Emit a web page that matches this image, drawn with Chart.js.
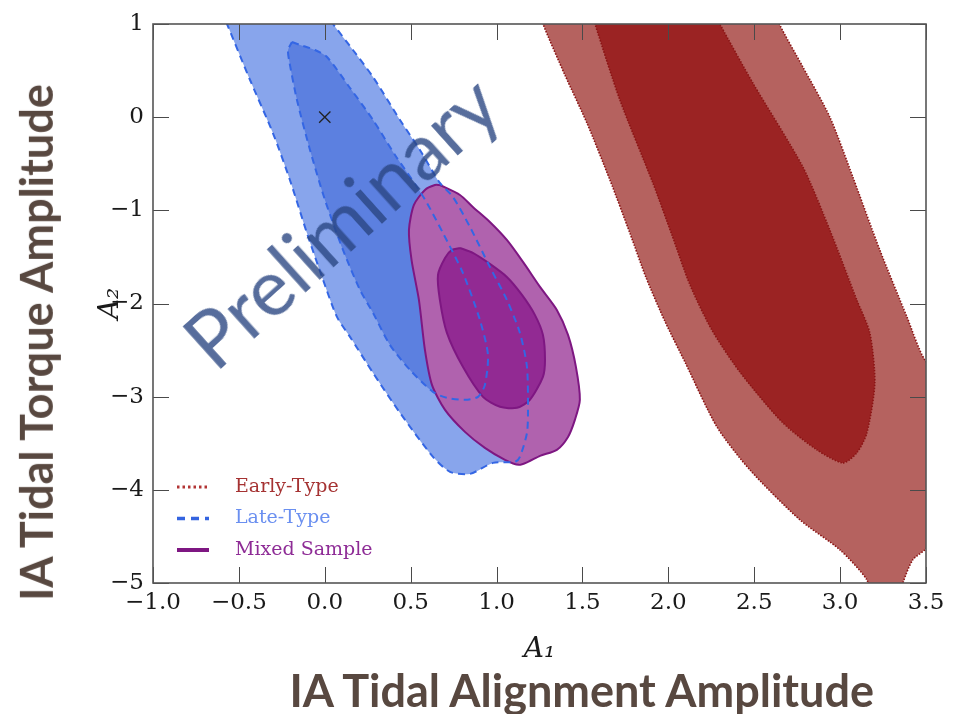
<!DOCTYPE html>
<html>
<head>
<meta charset="utf-8">
<script src="https://cdn.jsdelivr.net/npm/chart.js@4.4.1/dist/chart.umd.min.js"></script>
<style>
    html, body { margin: 0; padding: 0; background: #fff; }
    #wrap { position: relative; width: 959px; height: 714px; overflow: hidden; }
    #wrap canvas { position: absolute; left: 0; top: 0; }
    .slide-label {
        position: absolute;
        font-family: Lato, 'Open Sans', sans-serif;
        font-weight: 700;
        color: #584840;
        white-space: nowrap;
        line-height: 1;
        transform-origin: 50% 50%;
    }
    #stamp {
        position: absolute;
        font-family: Lato, 'Open Sans', sans-serif;
        font-weight: 400;
        font-size: 79px;
        color: rgba(40, 68, 128, 0.78);
        white-space: nowrap;
        line-height: 1;
        pointer-events: none;
    }
</style>
</head>
<body>
<div id="wrap">
    <canvas id="contourChart" width="959" height="714"></canvas>
    <div class="slide-label" id="ylab">IA Tidal Torque Amplitude</div>
    <div class="slide-label" id="xlab">IA Tidal Alignment Amplitude</div>
    <div id="stamp">Preliminary</div>
</div>
<script>
    // ------------------------------------------------------------
    //  Data (A1, A2)
    // ------------------------------------------------------------
    var xRange = [-1, 3.5];
    var yRange = [-5, 1];
    var xStep = 0.5;
    var yStep = 1;

    var seriesNames = ['Early-Type', 'Late-Type', 'Mixed Sample'];

    // Early-type contours (run past the frame, clipped by the axes)
    var earlyOuter = [
        [1.223, 1.258], [1.270, 1.000], [1.398, 0.453], [1.526, -0.062], [1.660, -0.674],
        [1.776, -1.243], [1.870, -1.720], [1.980, -2.190], [2.100, -2.640], [2.283, -3.324],
        [2.475, -3.786], [2.766, -4.322], [2.999, -4.644], [3.156, -4.966], [3.185, -5.180],
        [3.348, -5.180], [3.366, -4.998], [3.423, -4.751], [3.493, -4.644], [3.697, -4.215],
        [3.697, -3.034], [3.493, -2.605], [3.389, -2.144], [3.231, -1.425], [3.074, -0.642],
        [2.940, 0.002], [2.783, 0.539], [2.649, 0.989], [2.591, 1.258]
    ];
    var earlyInner = [
        [1.532, 1.258], [1.573, 1.000], [1.718, 0.185], [1.910, -0.706], [2.021, -1.264],
        [2.126, -1.800], [2.253, -2.283], [2.416, -2.734], [2.667, -3.281], [2.865, -3.571],
        [3.016, -3.711], [3.097, -3.603], [3.156, -3.389], [3.202, -2.852], [3.173, -2.316],
        [3.097, -1.961], [2.940, -1.210], [2.783, -0.534], [2.492, 0.367], [2.300, 1.000],
        [2.230, 1.258]
    ];

    // Late-type contours
    var lateOuter = [
        [-0.627, 1.258], [-0.569, 1.000], [-0.435, 0.399], [-0.302, -0.170], [-0.203, -0.674],
        [-0.104, -1.243], [-0.016, -1.715], [0.071, -2.144], [0.147, -2.358], [0.281, -2.745],
        [0.438, -3.174], [0.630, -3.646], [0.729, -3.807], [0.845, -3.829], [0.979, -3.711],
        [1.107, -3.700], [1.136, -3.646], [1.177, -3.389], [1.183, -3.142], [1.177, -2.680],
        [1.136, -2.316], [1.060, -1.961], [0.961, -1.607], [0.845, -1.178], [0.746, -0.856],
        [0.670, -0.706], [0.554, -0.352], [0.438, -0.030], [0.281, 0.431], [0.164, 0.721],
        [0.048, 1.000], [-0.057, 1.258]
    ];
    var lateInner = [
        [-0.191, 0.807], [-0.144, 0.775], [-0.057, 0.721], [0.013, 0.646], [0.147, 0.313],
        [0.281, -0.030], [0.409, -0.406], [0.537, -0.749], [0.595, -0.921], [0.688, -1.243],
        [0.804, -1.672], [0.903, -2.176], [0.950, -2.552], [0.932, -2.874], [0.892, -3.002],
        [0.816, -3.034], [0.711, -3.013], [0.630, -2.949], [0.496, -2.713], [0.379, -2.444],
        [0.281, -2.101], [0.205, -1.854], [0.106, -1.425], [0.001, -0.888], [-0.086, -0.352],
        [-0.162, 0.185], [-0.208, 0.614], [-0.214, 0.721]
    ];

    // Mixed-sample contours
    var mixedOuter = [
        [0.670, -0.728], [0.787, -0.835], [0.862, -0.964], [0.961, -1.125], [1.060, -1.318],
        [1.154, -1.554], [1.253, -1.822], [1.351, -2.069], [1.416, -2.337], [1.462, -2.680],
        [1.485, -3.034], [1.456, -3.249], [1.416, -3.432], [1.351, -3.571], [1.253, -3.635],
        [1.183, -3.700], [1.130, -3.732], [1.049, -3.678], [0.932, -3.550], [0.816, -3.378],
        [0.700, -3.142], [0.624, -2.874], [0.583, -2.498], [0.548, -1.961], [0.505, -1.532],
        [0.490, -1.210], [0.519, -0.942], [0.583, -0.781], [0.641, -0.728]
    ];
    var mixedInner = [
        [0.787, -1.404], [0.862, -1.457], [0.961, -1.575], [1.060, -1.715], [1.148, -1.908],
        [1.223, -2.122], [1.270, -2.337], [1.282, -2.605], [1.270, -2.788], [1.194, -3.034],
        [1.119, -3.120], [1.020, -3.109], [0.921, -3.002], [0.804, -2.680], [0.711, -2.316],
        [0.670, -1.961], [0.659, -1.693], [0.700, -1.511], [0.740, -1.425]
    ];

    var fiducial = [[0, 0]];

    // ------------------------------------------------------------
    //  Helpers
    // ------------------------------------------------------------
    var TICK_LEN = 16;

    function toPoints(arr, close) {
        var out = arr.map(function (p) { return { x: p[0], y: p[1] }; });
        if (close) out.push({ x: arr[0][0], y: arr[0][1] });
        return out;
    }

    function fillRegion(label, data, color, order, border) {
        border = border || {};
        return {
            label: label,
            data: toPoints(data, true),
            showLine: true,
            fill: 'shape',
            backgroundColor: color,
            borderColor: border.color || 'rgba(0,0,0,0)',
            borderWidth: border.width || 0,
            borderDash: border.dash || [],
            pointRadius: 0,
            tension: 0.25,
            order: order
        };
    }

    function outline(label, data, color, dash, order) {
        return {
            label: label,
            data: toPoints(data, true),
            showLine: true,
            fill: false,
            borderColor: color,
            borderWidth: 2,
            borderDash: dash,
            pointRadius: 0,
            tension: 0.25,
            order: order
        };
    }

    function minus(s) { return String(s).replace('-', '\u2212'); }

    var redDots = { color: '#8a1414', width: 1.6, dash: [1.5, 1.5] };
    var purpleLine = { color: '#7e1782', width: 2 };

    var legendRows = [
        { text: seriesNames[0], textColor: '#a53232', line: '#b23434', dash: [2.5, 3], width: 3 },
        { text: seriesNames[1], textColor: '#6a8ff0', line: '#3464e0', dash: [8, 6], width: 3.5 },
        { text: seriesNames[2], textColor: '#8e2c96', line: '#7e1782', dash: [], width: 4 }
    ];

    // Frame + inward ticks on all four sides (matplotlib style)
    var frameTicks = {
        id: 'frameTicks',
        afterDatasetsDraw: function (chart) {
            var ctx = chart.ctx, a = chart.chartArea;
            var xs = chart.scales.x, ys = chart.scales.y;
            ctx.save();
            ctx.strokeStyle = '#4a4a4a';
            ctx.lineWidth = 1;
            ctx.beginPath();
            xs.ticks.forEach(function (t) {
                var px = Math.round(xs.getPixelForValue(t.value)) + 0.5;
                ctx.moveTo(px, a.bottom); ctx.lineTo(px, a.bottom - TICK_LEN);
                ctx.moveTo(px, a.top); ctx.lineTo(px, a.top + TICK_LEN);
            });
            ys.ticks.forEach(function (t) {
                var py = Math.round(ys.getPixelForValue(t.value)) + 0.5;
                ctx.moveTo(a.left, py); ctx.lineTo(a.left + TICK_LEN, py);
                ctx.moveTo(a.right, py); ctx.lineTo(a.right - TICK_LEN, py);
            });
            ctx.stroke();
            ctx.lineWidth = 1.6;
            ctx.strokeStyle = '#555';
            ctx.strokeRect(a.left, a.top, a.right - a.left, a.bottom - a.top);
            ctx.restore();
        }
    };

    // Legend in the lower-left of the axes
    var insetLegend = {
        id: 'insetLegend',
        afterDraw: function (chart) {
            var ctx = chart.ctx;
            var x0 = 177, x1 = 209, tx = 235, y0 = 487, dy = 31.5;
            ctx.save();
            ctx.font = '19px "DejaVu Serif", serif';
            ctx.textBaseline = 'middle';
            legendRows.forEach(function (r, i) {
                var y = y0 + i * dy;
                ctx.beginPath();
                ctx.setLineDash(r.dash);
                ctx.strokeStyle = r.line;
                ctx.lineWidth = r.width;
                ctx.moveTo(x0, y); ctx.lineTo(x1, y);
                ctx.stroke();
                ctx.setLineDash([]);
                ctx.fillStyle = r.textColor;
                ctx.fillText(r.text, tx, y);
            });
            ctx.restore();
        }
    };

    var serif = '"DejaVu Serif", "Liberation Serif", serif';

    new Chart(document.getElementById('contourChart'), {
        type: 'scatter',
        data: {
            datasets: [
                {
                    label: 'fiducial',
                    data: toPoints(fiducial, false),
                    pointStyle: 'crossRot',
                    pointRadius: 8,
                    borderColor: '#222',
                    borderWidth: 1.3,
                    order: 0
                },
                outline(seriesNames[1] + ' inner', lateInner, '#3466e4', [7, 5], 1),
                outline(seriesNames[1] + ' outer', lateOuter, '#3466e4', [7, 5], 1),
                fillRegion(seriesNames[2] + ' inner', mixedInner, '#922a93', 3, purpleLine),
                fillRegion(seriesNames[2] + ' outer', mixedOuter, '#b062ae', 4, purpleLine),
                fillRegion(seriesNames[1] + ' inner fill', lateInner, '#5c80e0', 5),
                fillRegion(seriesNames[1] + ' outer fill', lateOuter, '#88a5ec', 6),
                fillRegion(seriesNames[0] + ' inner', earlyInner, '#9b2323', 7, redDots),
                fillRegion(seriesNames[0] + ' outer', earlyOuter, '#b5625f', 8, redDots)
            ]
        },
        options: {
            responsive: false,
            animation: false,
            layout: { padding: { left: 94, top: 24, right: 33, bottom: 47 } },
            scales: {
                x: {
                    type: 'linear',
                    min: xRange[0],
                    max: xRange[1],
                    grid: { display: false, drawTicks: false },
                    border: { display: false },
                    ticks: {
                        stepSize: xStep,
                        autoSkip: false,
                        maxRotation: 0,
                        padding: 6,
                        color: '#1a1a1a',
                        font: { family: serif, size: 23 },
                        callback: function (v) { return minus(Number(v).toFixed(1)); }
                    },
                    title: {
                        display: true,
                        text: 'A\u2081',
                        color: '#1a1a1a',
                        padding: 0,
                        font: { family: serif, style: 'italic', size: 28 }
                    },
                    afterFit: function (s) { s.height = 84; }
                },
                y: {
                    type: 'linear',
                    min: yRange[0],
                    max: yRange[1],
                    grid: { display: false, drawTicks: false },
                    border: { display: false },
                    ticks: {
                        stepSize: yStep,
                        padding: 9,
                        color: '#1a1a1a',
                        font: { family: serif, size: 23 },
                        callback: function (v) { return minus(v); }
                    },
                    title: {
                        display: true,
                        text: 'A\u2082',
                        color: '#1a1a1a',
                        padding: 0,
                        font: { family: serif, style: 'italic', size: 28 }
                    },
                    afterFit: function (s) { s.width = 59; }
                }
            },
            plugins: {
                legend: { display: false },
                tooltip: { enabled: false }
            }
        },
        plugins: [frameTicks, insetLegend]
    });

    // Slide annotations laid over the chart
    function place(id, cx, cy, deg, size) {
        var el = document.getElementById(id);
        if (size) el.style.fontSize = size + 'px';
        el.style.left = (cx - el.offsetWidth / 2) + 'px';
        el.style.top = (cy - el.offsetHeight / 2) + 'px';
        el.style.transform = 'rotate(' + deg + 'deg)';
    }
    place('ylab', 36, 342, -90, 45);
    place('xlab', 582, 690, 0, 45);
    place('stamp', 340, 220, -42);
</script>
</body>
</html>
